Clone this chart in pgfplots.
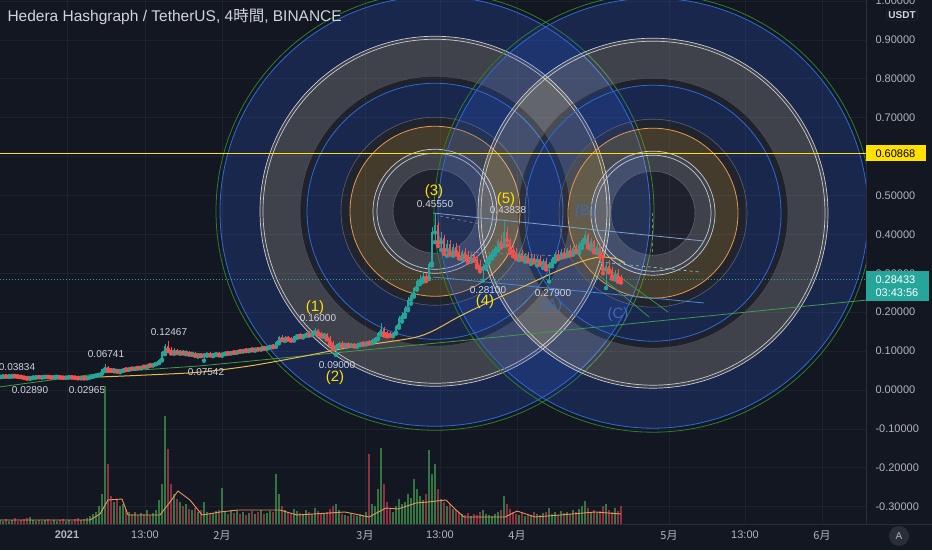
\documentclass[border=0pt]{standalone}
\usepackage{fontspec}
\setmainfont{Liberation Sans}
\newfontfamily\cjk{Noto Sans CJK JP}
\usepackage{pgfplots}
\usepackage{pgfplotstable}
\pgfplotsset{compat=1.18}

\definecolor{bg}{HTML}{131722}
\definecolor{gridc}{HTML}{1E222D}
\definecolor{axisc}{HTML}{2A2E39}
\definecolor{tickc}{HTML}{B2B5BE}
\definecolor{txt}{HTML}{D1D4DC}
\definecolor{upc}{HTML}{26A69A}
\definecolor{dnc}{HTML}{EF5350}
\definecolor{fibblue}{HTML}{3264E6}
\definecolor{fibolive}{HTML}{D3AB4A}
\definecolor{lblue}{HTML}{2A6AD8}
\definecolor{lgreen}{HTML}{2E7D32}
\definecolor{lorange}{HTML}{E8964A}
\definecolor{lwhite}{HTML}{C8CAD0}
\definecolor{lgray}{HTML}{5D606B}
\definecolor{yel}{HTML}{FFE000}
\definecolor{ma}{HTML}{E9B949}
\definecolor{volma}{HTML}{E8955A}
\definecolor{vup}{HTML}{3B8E4A}
\definecolor{vdn}{HTML}{A8394A}
\definecolor{labblue}{HTML}{4169B0}
\definecolor{trend}{HTML}{3F9A4A}
\definecolor{tl1}{HTML}{7FA0CC}
\definecolor{tl2}{HTML}{4A8BD0}

\pgfplotstableread{
x o h l c v
0 0.034 0.036 0.033 0.035 4
3 0.035 0.037 0.034 0.036 3
6 0.036 0.037 0.035 0.035 5
9 0.035 0.036 0.034 0.036 3
12 0.036 0.038 0.035 0.037 4
15 0.037 0.0383 0.036 0.036 6
18 0.036 0.037 0.034 0.035 3
21 0.035 0.036 0.033 0.034 4
24 0.034 0.035 0.031 0.032 5
27 0.032 0.033 0.029 0.031 6
30 0.031 0.033 0.0289 0.032 7
33 0.032 0.034 0.031 0.033 4
36 0.033 0.035 0.032 0.034 3
39 0.034 0.035 0.033 0.033 4
42 0.033 0.035 0.032 0.034 3
45 0.034 0.036 0.033 0.035 4
48 0.035 0.036 0.033 0.034 5
51 0.034 0.035 0.032 0.033 3
54 0.033 0.035 0.032 0.034 4
57 0.034 0.035 0.033 0.034 3
60 0.034 0.035 0.032 0.033 4
63 0.033 0.034 0.031 0.032 5
66 0.032 0.034 0.031 0.033 3
69 0.033 0.035 0.032 0.034 4
72 0.034 0.035 0.032 0.033 3
75 0.033 0.034 0.031 0.032 5
78 0.032 0.033 0.030 0.031 6
81 0.031 0.033 0.030 0.032 4
84 0.032 0.033 0.0297 0.031 5
87 0.031 0.034 0.030 0.033 6
90 0.033 0.036 0.032 0.035 8
93 0.035 0.038 0.034 0.037 10
96 0.037 0.040 0.036 0.039 12
99 0.039 0.044 0.038 0.043 18
102 0.043 0.055 0.042 0.053 30
105 0.053 0.0674 0.050 0.060 138
108 0.060 0.062 0.050 0.053 60
111 0.053 0.056 0.049 0.051 28
114 0.051 0.054 0.048 0.052 22
117 0.052 0.053 0.047 0.049 25
120 0.049 0.052 0.046 0.050 18
123 0.050 0.056 0.049 0.055 20
126 0.055 0.058 0.051 0.053 15
129 0.053 0.057 0.052 0.056 12
132 0.056 0.059 0.054 0.055 10
135 0.055 0.060 0.054 0.059 12
138 0.059 0.061 0.056 0.057 9
141 0.057 0.062 0.056 0.061 11
144 0.061 0.064 0.059 0.060 10
147 0.060 0.066 0.059 0.065 14
150 0.065 0.067 0.062 0.064 9
153 0.064 0.068 0.063 0.067 11
156 0.067 0.072 0.066 0.070 14
159 0.070 0.080 0.069 0.078 24
162 0.078 0.100 0.076 0.097 40
165 0.097 0.118 0.092 0.112 108
168 0.112 0.1247 0.100 0.104 75
171 0.104 0.110 0.094 0.098 40
174 0.098 0.108 0.093 0.103 30
177 0.103 0.106 0.095 0.097 25
180 0.097 0.101 0.093 0.099 22
183 0.099 0.102 0.094 0.096 18
186 0.096 0.100 0.092 0.097 20
189 0.097 0.099 0.091 0.093 15
192 0.093 0.098 0.090 0.095 14
195 0.095 0.097 0.088 0.090 16
198 0.090 0.094 0.086 0.092 12
201 0.092 0.095 0.087 0.089 14
204 0.089 0.093 0.0754 0.091 22
207 0.091 0.096 0.088 0.094 12
210 0.094 0.097 0.089 0.090 10
213 0.090 0.094 0.087 0.092 11
216 0.092 0.097 0.090 0.095 13
219 0.095 0.098 0.089 0.091 14
222 0.091 0.095 0.088 0.093 36
225 0.093 0.099 0.092 0.097 12
228 0.097 0.101 0.093 0.095 10
231 0.095 0.100 0.094 0.099 14
234 0.099 0.102 0.095 0.097 11
237 0.097 0.104 0.096 0.102 13
240 0.102 0.105 0.098 0.100 10
243 0.100 0.106 0.099 0.104 12
246 0.104 0.108 0.100 0.102 9
249 0.102 0.107 0.100 0.106 11
252 0.106 0.110 0.102 0.104 13
255 0.104 0.108 0.101 0.107 10
258 0.107 0.111 0.104 0.105 12
261 0.105 0.112 0.104 0.110 14
264 0.110 0.113 0.106 0.108 10
267 0.108 0.112 0.106 0.111 11
270 0.111 0.116 0.109 0.114 13
273 0.114 0.118 0.110 0.112 12
276 0.112 0.126 0.111 0.124 50
279 0.124 0.140 0.120 0.136 30
282 0.136 0.142 0.128 0.130 18
285 0.130 0.138 0.126 0.135 14
288 0.135 0.139 0.129 0.132 12
291 0.132 0.137 0.127 0.128 10
294 0.128 0.140 0.127 0.138 15
297 0.138 0.145 0.134 0.142 13
300 0.142 0.146 0.136 0.139 11
303 0.139 0.144 0.135 0.141 10
306 0.141 0.150 0.139 0.147 14
309 0.147 0.152 0.140 0.143 12
312 0.143 0.150 0.141 0.148 10
315 0.148 0.160 0.146 0.155 16
318 0.155 0.158 0.144 0.146 13
321 0.146 0.150 0.138 0.141 11
324 0.141 0.147 0.136 0.144 10
327 0.144 0.146 0.130 0.133 12
330 0.133 0.138 0.118 0.121 15
333 0.121 0.125 0.105 0.110 18
336 0.110 0.118 0.090 0.115 20
339 0.115 0.124 0.112 0.120 14
342 0.120 0.126 0.113 0.116 10
345 0.116 0.122 0.112 0.119 9
348 0.119 0.123 0.114 0.115 8
351 0.115 0.121 0.113 0.118 10
354 0.118 0.122 0.112 0.114 9
357 0.114 0.120 0.111 0.117 8
360 0.117 0.124 0.115 0.122 10
363 0.122 0.125 0.116 0.119 9
366 0.119 0.126 0.117 0.124 12
369 0.124 0.128 0.119 0.121 70
372 0.121 0.130 0.120 0.128 20
375 0.128 0.136 0.125 0.133 18
378 0.133 0.150 0.130 0.147 35
381 0.147 0.172 0.142 0.158 76
384 0.158 0.163 0.140 0.145 40
387 0.145 0.152 0.138 0.143 22
390 0.143 0.150 0.139 0.141 15
393 0.141 0.149 0.138 0.147 12
396 0.147 0.168 0.145 0.165 18
399 0.165 0.190 0.160 0.185 25
402 0.185 0.200 0.176 0.194 20
405 0.194 0.215 0.188 0.210 22
408 0.210 0.240 0.205 0.232 30
411 0.232 0.250 0.222 0.245 26
414 0.245 0.265 0.240 0.262 45
417 0.262 0.285 0.258 0.280 35
420 0.280 0.295 0.272 0.285 28
423 0.285 0.300 0.278 0.292 24
426 0.292 0.302 0.280 0.288 30
429 0.288 0.330 0.285 0.325 74
432 0.325 0.420 0.320 0.405 50
435 0.405 0.4555 0.380 0.425 60
438 0.425 0.432 0.370 0.380 35
441 0.380 0.405 0.360 0.392 25
444 0.392 0.398 0.350 0.360 22
447 0.360 0.385 0.345 0.375 18
450 0.375 0.385 0.348 0.352 20
453 0.352 0.375 0.345 0.368 15
456 0.368 0.378 0.348 0.355 14
459 0.355 0.370 0.338 0.342 12
462 0.342 0.360 0.336 0.354 10
465 0.354 0.364 0.340 0.346 9
468 0.346 0.358 0.328 0.334 11
471 0.334 0.352 0.330 0.348 8
474 0.348 0.356 0.332 0.336 10
477 0.336 0.345 0.315 0.322 9
480 0.322 0.335 0.305 0.312 12
483 0.312 0.325 0.281 0.318 14
486 0.318 0.338 0.312 0.334 10
489 0.334 0.350 0.328 0.345 9
492 0.345 0.362 0.338 0.356 8
495 0.356 0.370 0.348 0.364 10
498 0.364 0.388 0.358 0.382 12
501 0.382 0.398 0.366 0.374 14
504 0.374 0.4384 0.370 0.405 28
507 0.405 0.418 0.372 0.385 20
510 0.385 0.392 0.352 0.360 15
513 0.360 0.370 0.344 0.356 12
516 0.356 0.365 0.338 0.344 10
519 0.344 0.358 0.334 0.352 9
522 0.352 0.360 0.336 0.340 11
525 0.340 0.352 0.330 0.346 8
528 0.346 0.355 0.330 0.334 10
531 0.334 0.346 0.324 0.340 9
534 0.340 0.350 0.328 0.332 12
537 0.332 0.344 0.320 0.338 10
540 0.338 0.346 0.322 0.326 9
543 0.326 0.338 0.314 0.332 11
546 0.332 0.340 0.310 0.318 12
549 0.318 0.328 0.279 0.324 16
552 0.324 0.342 0.318 0.338 10
555 0.338 0.356 0.330 0.350 12
558 0.350 0.360 0.336 0.344 9
561 0.344 0.362 0.340 0.356 13
564 0.356 0.366 0.342 0.348 11
567 0.348 0.364 0.344 0.360 12
570 0.360 0.372 0.346 0.354 10
573 0.354 0.370 0.348 0.364 14
576 0.364 0.376 0.354 0.358 12
579 0.358 0.380 0.352 0.374 15
582 0.374 0.392 0.366 0.386 18
585 0.386 0.408 0.380 0.398 23
588 0.398 0.404 0.366 0.372 16
591 0.372 0.390 0.362 0.382 12
594 0.382 0.386 0.354 0.360 14
597 0.360 0.378 0.352 0.370 11
600 0.370 0.376 0.342 0.346 13
603 0.346 0.354 0.300 0.310 18
606 0.310 0.328 0.262 0.318 20
609 0.318 0.334 0.302 0.308 14
612 0.308 0.316 0.286 0.292 12
615 0.292 0.308 0.284 0.302 16
618 0.302 0.310 0.278 0.288 13
621 0.288 0.296 0.276 0.2843 18
}\candles

% Fibonacci circle set: #1 = x centre, #2 = price centre
\newcommand{\fibset}[2]{%
  \fill[white, fill opacity=0.05] (axis cs:#1,#2) ellipse[x radius=42, y radius=0.10797];
  \fill[white, fill opacity=0.19, even odd rule] (axis cs:#1,#2) ellipse[x radius=62, y radius=0.15938] (axis cs:#1,#2) ellipse[x radius=42, y radius=0.10797];
  \fill[fibolive, fill opacity=0.25, even odd rule] (axis cs:#1,#2) ellipse[x radius=85, y radius=0.21851] (axis cs:#1,#2) ellipse[x radius=62, y radius=0.15938];
  \fill[white, fill opacity=0.06, even odd rule] (axis cs:#1,#2) ellipse[x radius=94, y radius=0.24165] (axis cs:#1,#2) ellipse[x radius=85, y radius=0.21851];
  \fill[fibblue, fill opacity=0.22, even odd rule] (axis cs:#1,#2) ellipse[x radius=128, y radius=0.32905] (axis cs:#1,#2) ellipse[x radius=94, y radius=0.24165];
  \fill[white, fill opacity=0.05, even odd rule] (axis cs:#1,#2) ellipse[x radius=135, y radius=0.34704] (axis cs:#1,#2) ellipse[x radius=128, y radius=0.32905];
  \fill[white, fill opacity=0.19, even odd rule] (axis cs:#1,#2) ellipse[x radius=175, y radius=0.44987] (axis cs:#1,#2) ellipse[x radius=135, y radius=0.34704];
  \fill[fibblue, fill opacity=0.22, even odd rule] (axis cs:#1,#2) ellipse[x radius=215, y radius=0.55270] (axis cs:#1,#2) ellipse[x radius=175, y radius=0.44987];
  \draw[lgray, line width=0.6pt] (axis cs:#1,#2) ellipse[x radius=42, y radius=0.10797];
  \draw[lwhite, line width=0.7pt] (axis cs:#1,#2) ellipse[x radius=58, y radius=0.14910];
  \draw[lwhite, line width=0.7pt] (axis cs:#1,#2) ellipse[x radius=62, y radius=0.15938];
  \draw[lorange, line width=0.8pt] (axis cs:#1,#2) ellipse[x radius=85, y radius=0.21851];
  \draw[lgray, line width=0.6pt] (axis cs:#1,#2) ellipse[x radius=94, y radius=0.24165];
  \draw[lblue, line width=0.8pt] (axis cs:#1,#2) ellipse[x radius=128, y radius=0.32905];
  \draw[lgray!70!bg, line width=0.6pt] (axis cs:#1,#2) ellipse[x radius=135, y radius=0.34704];
  \draw[lwhite, line width=0.7pt] (axis cs:#1,#2) ellipse[x radius=172, y radius=0.44216];
  \draw[lwhite, line width=0.7pt] (axis cs:#1,#2) ellipse[x radius=175, y radius=0.44987];
  \draw[lblue, line width=0.8pt] (axis cs:#1,#2) ellipse[x radius=215, y radius=0.55270];
  \draw[lgreen, line width=0.8pt] (axis cs:#1,#2) ellipse[x radius=219, y radius=0.56298];
}

\begin{document}
\begin{tikzpicture}
\useasboundingbox (0pt,0pt) rectangle (932pt,550pt);
\fill[bg] (0pt,0pt) rectangle (932pt,550pt);

\begin{axis}[
  at={(0pt,26pt)}, anchor=south west,
  scale only axis, width=866pt, height=524pt,
  xmin=0, xmax=866, ymin=-0.34447, ymax=1.00257,
  axis x line*=bottom, axis y line*=right,
  axis line style={draw=axisc, line width=0.8pt},
  major tick length=0pt,
  grid=major, major grid style={draw=gridc, line width=0.7pt},
  scaled y ticks=false,
  ytick={-0.3,-0.2,-0.1,0,0.1,0.2,0.3,0.4,0.5,0.7,0.8,0.9,1.0},
  extra y ticks={0.6}, extra y tick labels={},
  extra y tick style={grid=major, major grid style={draw=gridc, line width=0.7pt}},
  yticklabel style={font=\fontsize{11}{13}\selectfont, text=tickc, xshift=6pt,
    /pgf/number format/fixed, /pgf/number format/fixed zerofill,
    /pgf/number format/precision=5, /pgf/number format/assume math mode=true},
  xtick={67,145,222,365,440,517,669,745,822},
  xticklabels={\textbf{2021},13:00,{\cjk 2月},{\cjk 3月},13:00,{\cjk 4月},{\cjk 5月},13:00,{\cjk 6月}},
  xticklabel style={font=\fontsize{11}{13}\selectfont, text=tickc, yshift=-3pt},
]
% Fibonacci circles
\fibset{435}{0.4595}
\fibset{653}{0.4545}

% horizontal lines
\addplot[yel, line width=1pt] coordinates {(0,0.60868) (866,0.60868)};
\addplot[upc, line width=0.8pt, dash pattern=on 1pt off 2pt] coordinates {(0,0.28433) (866,0.28433)};

% trend lines
\addplot[trend, line width=0.8pt] coordinates {(0,0.008) (110,0.046) (200,0.062) (273,0.080) (450,0.124) (866,0.231)};
\addplot[tl1, line width=0.8pt] coordinates {(433,0.4550) (704,0.3830)};
\addplot[tl2, line width=0.8pt] coordinates {(433,0.2905) (704,0.2237)};
\addplot[lgray!80!white, line width=0.7pt, dashed] coordinates {(440,0.4473) (480,0.4267)};
\addplot[lgray!80!white, line width=0.7pt, dashed] coordinates {(470,0.3548) (560,0.3445)};
\addplot[upc!60!white, line width=0.7pt, dashed] coordinates {(600,0.3290) (700,0.3033)};
\addplot[lgray!80!white, line width=0.7pt, dashed] coordinates {(652,0.4550) (652,0.3470)};
\addplot[trend, line width=0.7pt] coordinates {(606,0.3162) (668,0.2005)};
\addplot[trend, line width=0.7pt] coordinates {(599,0.2950) (649,0.1877)};

% moving average
\addplot[ma, line width=1pt, smooth] coordinates {(0,0.031) (90,0.033) (150,0.039) (200,0.046) (250,0.062) (300,0.085) (340,0.105) (367,0.116) (413,0.134) (433,0.152) (460,0.190) (493,0.231) (520,0.262) (553,0.301) (580,0.329) (600,0.342) (617,0.337) (625,0.326)};

% candles: wicks
\addplot[upc, only marks, mark=none, restrict expr to domain={\thisrow{c}-\thisrow{o}}{0:1},
  error bars/.cd, y dir=plus, y explicit, error mark=none, error bar style={color=upc, line width=0.6pt}]
  table[x=x, y=l, y error plus expr=\thisrow{h}-\thisrow{l}] {\candles};
\addplot[dnc, only marks, mark=none, restrict expr to domain={\thisrow{o}-\thisrow{c}}{0.00001:1},
  error bars/.cd, y dir=plus, y explicit, error mark=none, error bar style={color=dnc, line width=0.6pt}]
  table[x=x, y=l, y error plus expr=\thisrow{h}-\thisrow{l}] {\candles};
% candles: bodies
\addplot[upc, only marks, mark=none, restrict expr to domain={\thisrow{c}-\thisrow{o}}{0:1},
  error bars/.cd, y dir=plus, y explicit, error mark=none, error bar style={color=upc, line width=1.5pt}]
  table[x=x, y=o, y error plus expr=\thisrow{c}-\thisrow{o}] {\candles};
\addplot[dnc, only marks, mark=none, restrict expr to domain={\thisrow{o}-\thisrow{c}}{0.00001:1},
  error bars/.cd, y dir=plus, y explicit, error mark=none, error bar style={color=dnc, line width=1.5pt}]
  table[x=x, y=c, y error plus expr=\thisrow{o}-\thisrow{c}] {\candles};

% labels
\def\nf{\fontsize{10}{12}\selectfont}
\def\yf{\fontsize{15}{17}\selectfont}
\node[text=txt, font=\nf] at (axis cs:17,0.0591) {0.03834};
\node[text=txt, font=\nf] at (axis cs:30,0.0) {0.02890};
\node[text=txt, font=\nf] at (axis cs:106,0.0925) {0.06741};
\node[text=txt, font=\nf] at (axis cs:87,0.0) {0.02965};
\node[text=txt, font=\nf] at (axis cs:169,0.1491) {0.12467};
\node[text=txt, font=\nf] at (axis cs:206,0.0463) {0.07542};
\node[text=yel, font=\yf] at (axis cs:315,0.2130) {(1)};
\node[text=txt, font=\nf] at (axis cs:318,0.1851) {0.16000};
\node[text=txt, font=\nf] at (axis cs:337,0.0650) {0.09000};
\node[text=yel, font=\yf] at (axis cs:335,0.0320) {(2)};
\node[text=yel, font=\yf] at (axis cs:434,0.5100) {(3)};
\node[text=txt, font=\nf] at (axis cs:435,0.4790) {0.45550};
\node[text=yel, font=\yf] at (axis cs:506,0.4900) {(5)};
\node[text=txt, font=\nf] at (axis cs:508,0.4620) {0.43838};
\node[text=txt, font=\nf] at (axis cs:488,0.2570) {0.28100};
\node[text=yel, font=\yf] at (axis cs:485,0.2270) {(4)};
\node[text=txt, font=\nf] at (axis cs:553,0.2494) {0.27900};
\node[text=labblue, font=\yf] at (axis cs:552,0.2160) {(A)};
\node[text=labblue, font=\yf] at (axis cs:585,0.4576) {(B)};
\node[text=labblue, font=\yf] at (axis cs:618,0.1928) {(C)};

\coordinate (cur) at (axis cs:866,0.28433);
\coordinate (yl) at (axis cs:866,0.60868);
\end{axis}

% volume pane
\begin{axis}[
  at={(0pt,26pt)}, anchor=south west,
  scale only axis, width=866pt, height=524pt,
  xmin=0, xmax=866, ymin=0, ymax=524, hide axis,
]
\addplot[ycomb, draw=vup, line width=1.6pt, opacity=0.8, restrict expr to domain={\thisrow{c}-\thisrow{o}}{0:1}]
  table[x=x, y=v] {\candles};
\addplot[ycomb, draw=vdn, line width=1.6pt, opacity=0.8, restrict expr to domain={\thisrow{o}-\thisrow{c}}{0.00001:1}]
  table[x=x, y=v] {\candles};
\addplot[volma, line width=0.9pt] coordinates {(0,4) (90,4) (100,10) (108,24) (122,25) (128,9) (160,9) (170,22) (178,33) (190,24) (202,9) (220,12) (238,14) (280,14) (297,9) (345,12) (369,7) (386,16) (398,15) (416,21) (428,22) (446,24) (455,15) (464,7) (505,7) (517,13) (535,7) (560,9) (595,12) (621,10)};
\end{axis}

% price-scale boxes
\fill[upc] ([yshift=8pt]cur) rectangle ([xshift=63pt,yshift=-22pt]cur);
\node[anchor=west, text=white, font=\fontsize{11}{13}\selectfont] at ([xshift=6pt,yshift=0pt]cur) {0.28433};
\node[anchor=west, text=white, font=\fontsize{11}{13}\selectfont] at ([xshift=6pt,yshift=-13pt]cur) {03:43:56};
\fill[yel] ([yshift=8pt]yl) rectangle ([xshift=60pt,yshift=-8pt]yl);
\node[anchor=west, text=black, font=\fontsize{11}{13}\selectfont] at ([xshift=6pt]yl) {0.60868};

\draw[axisc, line width=0.8pt] (0pt,26pt) -- (932pt,26pt);
\node[draw=axisc, rounded corners=2pt, text=txt, font=\fontsize{10}{12}\selectfont\bfseries, inner sep=2pt] at (902pt,535pt) {USDT};
\node[circle, fill=axisc, text=tickc, minimum size=20pt, inner sep=0pt, font=\fontsize{10}{12}\selectfont] at (899pt,14pt) {A};
\node[anchor=west, text=txt, font=\fontsize{15.5}{18}\selectfont] at (4pt,533pt) {Hedera Hashgraph / TetherUS, 4{\cjk 時間}, BINANCE};
\end{tikzpicture}
\end{document}
